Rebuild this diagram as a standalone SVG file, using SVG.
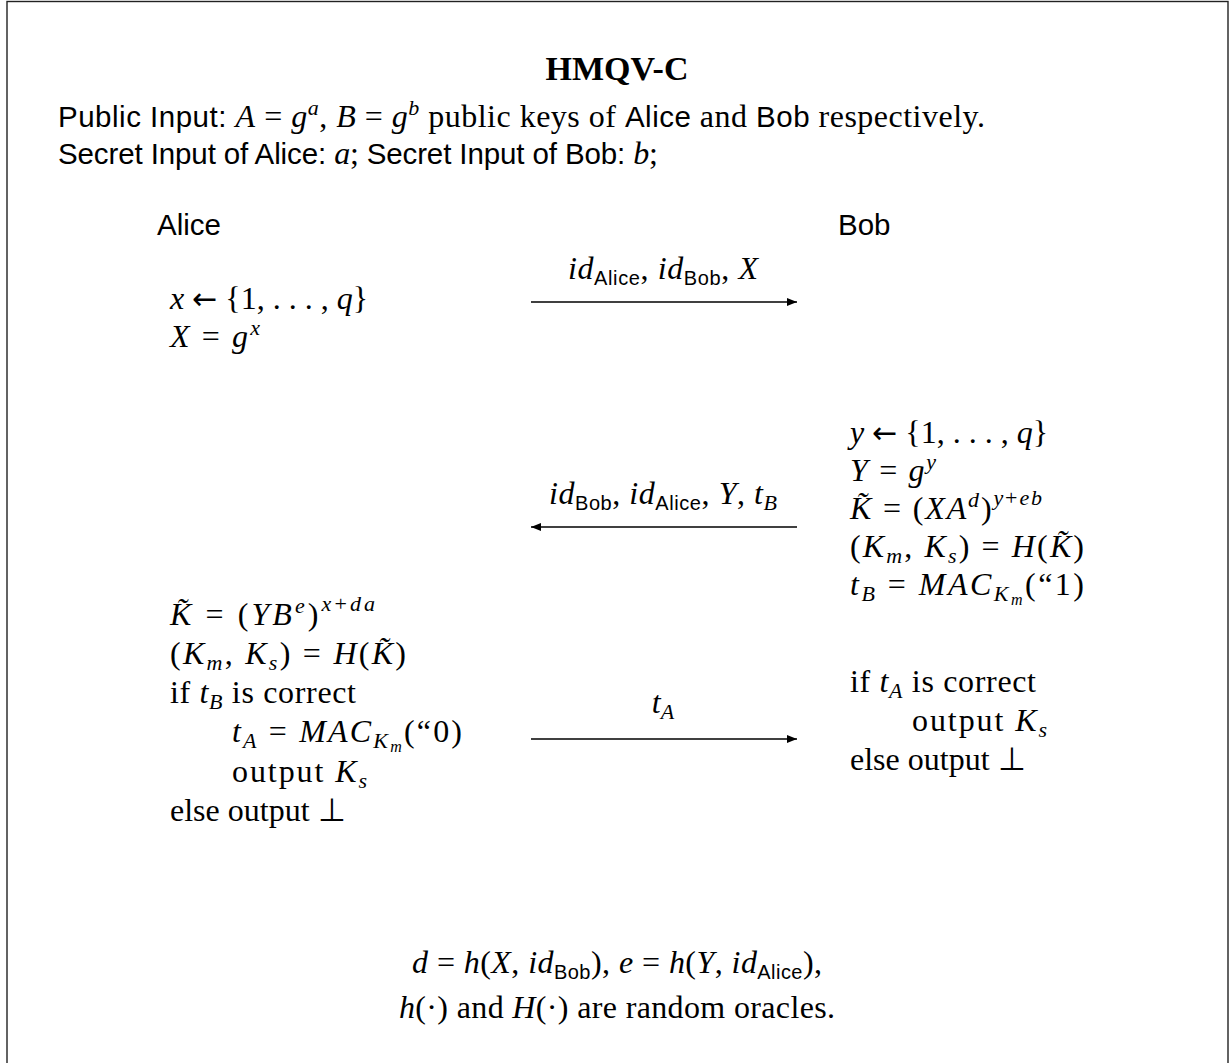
<svg xmlns="http://www.w3.org/2000/svg" width="1231" height="1063" viewBox="0 0 1231 1063">
<style>
text{fill:#000}
.rm{font-family:"Liberation Serif","Times New Roman",serif;font-size:32px}
.sf{font-family:"Liberation Sans",Arial,sans-serif;font-size:29.5px}
.title{font-family:"Liberation Serif","Times New Roman",serif;font-size:34px;font-weight:bold}
.i{font-style:italic}
.sub{font-size:22px}
.ssub{font-size:16px}
.ssf{font-family:"Liberation Sans",Arial,sans-serif;font-size:20px;font-style:normal}
.arr{font-family:"DejaVu Sans",sans-serif;font-size:30px}
.conn line{stroke:#000;stroke-width:1.3}
</style>
<defs>
<marker id="ah" viewBox="0 0 10 8" refX="10" refY="4" markerWidth="10" markerHeight="8" markerUnits="userSpaceOnUse" orient="auto">
<path d="M0,0 L10,4 L0,8 z" fill="#000"/>
</marker>
</defs>
<rect x="7" y="1.5" width="1221" height="1100" fill="#fff" stroke="#222" stroke-width="1.4"/>

<g id="title"><text class="title" x="617" y="80" text-anchor="middle">HMQV-C</text></g>

<g id="inputs">
<text class="sf" x="58" y="127" textLength="927">Public Input: <tspan class="rm i">A</tspan><tspan class="rm"> = </tspan><tspan class="rm i">g</tspan><tspan class="rm i sub" dy="-12">a</tspan><tspan class="rm" dy="12">, </tspan><tspan class="rm i">B</tspan><tspan class="rm"> = </tspan><tspan class="rm i">g</tspan><tspan class="rm i sub" dy="-12">b</tspan><tspan class="rm" dy="12"> public keys of </tspan>Alice<tspan class="rm"> and </tspan>Bob<tspan class="rm"> respectively.</tspan></text>
<text class="sf" x="58" y="164" textLength="600">Secret Input of Alice: <tspan class="rm i">a</tspan><tspan class="rm">; </tspan>Secret Input of Bob: <tspan class="rm i">b</tspan><tspan class="rm">;</tspan></text>
</g>

<g id="alice-label"><text class="sf" x="157" y="235">Alice</text></g>
<g id="bob-label"><text class="sf" x="838" y="235">Bob</text></g>

<g id="alice-step1">
<text class="rm" x="170" y="309"><tspan class="i">x</tspan> <tspan class="arr">←</tspan> {1, . . . , <tspan class="i">q</tspan>}</text>
<text class="rm" x="170" y="347" textLength="90"><tspan class="i">X</tspan> = <tspan class="i">g</tspan><tspan class="i sub" dy="-12">x</tspan></text>
</g>

<g id="bob-step">
<text class="rm" x="850" y="443"><tspan class="i">y</tspan> <tspan class="arr">←</tspan> {1, . . . , <tspan class="i">q</tspan>}</text>
<text class="rm" x="850" y="481" textLength="86"><tspan class="i">Y</tspan> = <tspan class="i">g</tspan><tspan class="i sub" dy="-12">y</tspan></text>
<text class="rm" x="850" y="519" textLength="192"><tspan class="i">K̃</tspan> = (<tspan class="i">XA</tspan><tspan class="i sub" dy="-12">d</tspan><tspan dy="12">)</tspan><tspan class="i sub" dy="-14">y</tspan><tspan class="sub">+</tspan><tspan class="i sub">eb</tspan></text>
<text class="rm" x="850" y="557" textLength="234">(<tspan class="i">K</tspan><tspan class="i sub" dy="6">m</tspan><tspan dy="-6">, </tspan><tspan class="i">K</tspan><tspan class="i sub" dy="6">s</tspan><tspan dy="-6">) = </tspan><tspan class="i">H</tspan>(<tspan class="i">K̃</tspan>)</text>
<text class="rm" x="850" y="595" textLength="234"><tspan class="i">t</tspan><tspan class="i sub" dy="6">B</tspan><tspan dy="-6"> = </tspan><tspan class="i">MAC</tspan><tspan class="i sub" dy="6">K</tspan><tspan class="i ssub" dy="4">m</tspan><tspan dy="-10">(“1)</tspan></text>
</g>

<g id="alice-step2">
<text class="rm" x="170" y="625" textLength="205"><tspan class="i">K̃</tspan> = (<tspan class="i">YB</tspan><tspan class="i sub" dy="-12">e</tspan><tspan dy="12">)</tspan><tspan class="i sub" dy="-14">x</tspan><tspan class="sub">+</tspan><tspan class="i sub">da</tspan></text>
<text class="rm" x="170" y="664" textLength="236">(<tspan class="i">K</tspan><tspan class="i sub" dy="6">m</tspan><tspan dy="-6">, </tspan><tspan class="i">K</tspan><tspan class="i sub" dy="6">s</tspan><tspan dy="-6">) = </tspan><tspan class="i">H</tspan>(<tspan class="i">K̃</tspan>)</text>
<text class="rm" x="170" y="703" textLength="186">if <tspan class="i">t</tspan><tspan class="i sub" dy="6">B</tspan><tspan dy="-6"> is correct</tspan></text>
<text class="rm" x="232" y="742" textLength="230"><tspan class="i">t</tspan><tspan class="i sub" dy="6">A</tspan><tspan dy="-6"> = </tspan><tspan class="i">MAC</tspan><tspan class="i sub" dy="6">K</tspan><tspan class="i ssub" dy="4">m</tspan><tspan dy="-10">(“0)</tspan></text>
<text class="rm" x="232" y="782" textLength="135">output <tspan class="i">K</tspan><tspan class="i sub" dy="6">s</tspan></text>
<text class="rm" x="170" y="821">else output ⊥</text>
</g>

<g id="bob-step2">
<text class="rm" x="850" y="692" textLength="186">if <tspan class="i">t</tspan><tspan class="i sub" dy="6">A</tspan><tspan dy="-6"> is correct</tspan></text>
<text class="rm" x="912" y="731" textLength="135">output <tspan class="i">K</tspan><tspan class="i sub" dy="6">s</tspan></text>
<text class="rm" x="850" y="770">else output ⊥</text>
</g>

<g id="footer">
<text class="rm" x="617" y="973" text-anchor="middle" textLength="410"><tspan class="i">d</tspan> = <tspan class="i">h</tspan>(<tspan class="i">X</tspan>, <tspan class="i">id</tspan><tspan class="ssf" dy="6">Bob</tspan><tspan dy="-6">), </tspan><tspan class="i">e</tspan> = <tspan class="i">h</tspan>(<tspan class="i">Y</tspan>, <tspan class="i">id</tspan><tspan class="ssf" dy="6">Alice</tspan><tspan dy="-6">),</tspan></text>
<text class="rm" x="617" y="1018" text-anchor="middle" textLength="436"><tspan class="i">h</tspan>(·) and <tspan class="i">H</tspan>(·) are random oracles.</text>
</g>

<g id="connectors" class="conn">
<line x1="531" y1="302" x2="797" y2="302" marker-end="url(#ah)"/>
<line x1="797" y1="527" x2="531" y2="527" marker-end="url(#ah)"/>
<line x1="531" y1="739" x2="797" y2="739" marker-end="url(#ah)"/>
</g>

<g id="connector-labels">
<text class="rm" x="663" y="279" text-anchor="middle" textLength="190"><tspan class="i">id</tspan><tspan class="ssf" dy="6">Alice</tspan><tspan dy="-6">, </tspan><tspan class="i">id</tspan><tspan class="ssf" dy="6">Bob</tspan><tspan dy="-6">, </tspan><tspan class="i">X</tspan></text>
<text class="rm" x="663" y="504" text-anchor="middle" textLength="228"><tspan class="i">id</tspan><tspan class="ssf" dy="6">Bob</tspan><tspan dy="-6">, </tspan><tspan class="i">id</tspan><tspan class="ssf" dy="6">Alice</tspan><tspan dy="-6">, </tspan><tspan class="i">Y</tspan>, <tspan class="i">t</tspan><tspan class="i sub" dy="6">B</tspan></text>
<text class="rm" x="663" y="713" text-anchor="middle"><tspan class="i">t</tspan><tspan class="i sub" dy="6">A</tspan></text>
</g>
</svg>
